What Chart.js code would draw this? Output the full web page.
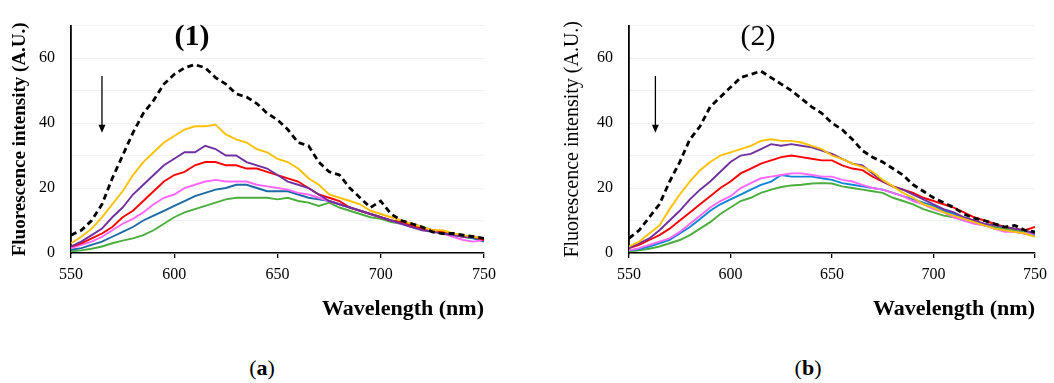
<!DOCTYPE html>
<html lang="en">
<head>
  <meta charset="UTF-8">
  <title>Fluorescence spectra (1) and (2)</title>
  <script src="https://cdn.jsdelivr.net/npm/chart.js"></script>
  <style>
    body { margin: 0; width: 1054px; height: 383px; background: #fff; position: relative; overflow: hidden; font-family: "Liberation Serif", serif; color: #000; }
    .panel { position: absolute; top: 0; height: 330px; }
    .num { position: absolute; top: 18px; font-size: 30px; transform: translateX(-50%); }
    .cap { position: absolute; top: 355px; font-size: 22px; transform: translateX(-50%); }
  </style>
</head>
<body>

  <div class="panel" style="left:0;width:520px"><canvas id="chart1"></canvas></div>
  <div class="panel" style="left:540px;width:514px"><canvas id="chart2"></canvas></div>

  <div class="num" style="left:192px;font-weight:bold">(1)</div>
  <div class="num" style="left:758px">(2)</div>
  <div class="cap" style="left:262px">(<b>a</b>)</div>
  <div class="cap" style="left:808px">(<b>b</b>)</div>

  <script>
    // wavelength axis (nm), every 5 nm
    const wavelengths = [550, 555, 560, 565, 570, 575, 580, 585, 590, 595, 600, 605, 610, 615, 620, 625, 630, 635, 640, 645,
                         650, 655, 660, 665, 670, 675, 680, 685, 690, 695, 700, 705, 710, 715, 720, 725, 730, 735, 740, 745, 750];
    const yTicks = [0, 20, 40, 60];

    // panel (1)
    const p1Black   = [5.5, 7, 10, 15, 23, 30, 37, 43, 47, 52, 55, 57, 58, 57, 54, 52, 49, 48, 46, 43, 41, 38, 34, 33, 28, 25, 24, 20, 17, 14, 16, 12, 10, 9, 8, 6.5, 6, 6, 5.5, 5, 4.5];
    const p1Yellow  = [3, 5, 7.5, 11, 15, 19, 24, 28, 31, 34, 36, 38, 39, 39, 39.5, 36.5, 35, 34, 32, 31, 29, 28, 26, 23, 21, 18, 17, 16, 15, 13, 12, 11, 10, 9, 8, 7, 7, 6, 5.5, 5, 4.5];
    const p1Purple  = [2, 3.5, 5.5, 7.5, 11, 14, 18, 21, 24, 27, 29, 31, 31, 33, 32, 30, 30, 28, 27, 26, 24, 22, 21, 20, 18, 16, 15, 14, 13, 12, 11, 10, 9, 8, 7, 6.5, 6, 5.5, 5, 5, 4.5];
    const p1Red     = [2, 3, 4.5, 6, 8, 11, 13, 16, 19, 22, 24, 25, 27, 28, 28, 27, 27, 26, 26, 25, 24, 23, 22, 20, 18, 17, 16, 14, 13, 12, 11, 10, 9.5, 8.5, 7.5, 7, 6.5, 6, 5, 5, 4];
    const p1Magenta = [1.5, 2.5, 3.5, 5, 7, 9, 10.5, 12.5, 15, 17, 18, 20, 21, 22, 22.5, 22, 22, 22, 21, 20.5, 20, 19.5, 18.5, 18, 17, 16, 15, 14, 13, 12, 11, 10, 9, 8, 7.5, 7, 6, 5, 4, 3.5, 4];
    const p1Blue    = [1, 1.5, 2.5, 3.5, 5, 6.5, 8, 10, 11.5, 13, 14.5, 16, 17.5, 18.5, 19.5, 20, 21, 21, 20, 19, 19, 19, 18, 17, 16.5, 16, 15, 14, 13, 12, 11, 10, 9.5, 9, 8, 7, 6.5, 6, 5, 4.5, 3.5];
    const p1Green   = [0.5, 0.8, 1.3, 2, 3, 3.8, 4.5, 5.5, 7, 9, 11, 12.5, 13.5, 14.5, 15.5, 16.5, 17, 17, 17, 17, 16.5, 17, 16, 15.5, 14.5, 15.5, 14, 13, 12, 11, 10.5, 9.5, 9, 8, 7.5, 7, 6, 5.5, 5, 4.5, 4];

    // panel (2)
    const p2Black   = [4.5, 7, 11, 15, 22, 28, 35, 39, 45, 48, 51, 54, 55, 56, 54, 52, 50, 47.5, 45, 43, 40, 38, 35, 31.5, 29.5, 28, 26, 24, 21, 19, 17, 15.5, 14, 12, 10.7, 10, 9, 8, 8.5, 7, 6.5];
    const p2Yellow  = [2, 3.5, 6, 8.5, 13.5, 18, 22, 25.5, 28, 30, 31, 32, 33, 34.5, 35, 34.5, 34.5, 34, 33, 32, 30, 29, 27.5, 26.5, 25, 22.5, 20.5, 18.5, 17, 15, 14, 12.5, 11.5, 10.5, 9.5, 8.5, 7.5, 7, 6.5, 6, 5];
    const p2Purple  = [1.5, 3, 4.5, 7, 10, 13, 16.5, 19.5, 22, 25, 28, 30, 30.5, 32, 33.5, 33, 33.5, 33, 32.5, 31.5, 30.5, 29, 27.5, 27, 24.5, 22, 20.5, 19.5, 18, 16.5, 15, 13.5, 12.5, 11, 10, 9, 8.5, 8, 7.5, 7, 6];
    const p2Red     = [1.5, 2.5, 4, 5.5, 7.5, 10, 12.5, 15, 17.5, 20, 22, 24.5, 26, 27.5, 28.5, 29.5, 30, 29.5, 29, 28.5, 28.5, 27, 26, 25.5, 23.5, 22, 20.5, 19.5, 18.5, 17, 16, 15, 14, 12.5, 11, 10, 9, 8, 7.5, 7, 8];
    const p2Magenta = [0.8, 1.5, 2.5, 3.5, 4.5, 6.5, 9, 11.5, 14, 16, 17.5, 20, 21.5, 23, 23.5, 24, 24.5, 24.5, 24, 23.5, 23.5, 22.5, 22, 21, 20, 19.5, 18.5, 17.5, 16, 15, 13.5, 12.5, 11, 10, 9, 8.5, 7.5, 6.5, 6.5, 6, 6];
    const p2Blue    = [0.8, 1.2, 2, 3, 4, 6, 8, 10.5, 13, 15, 16.5, 18, 19.5, 21, 22, 24, 23.5, 23.5, 23.5, 23, 22.5, 21.5, 21, 20.5, 20, 19.5, 18.5, 17.5, 16.5, 15.5, 14.5, 13, 12, 10.5, 9.5, 8.5, 7.5, 7, 6.5, 6, 5.5];
    const p2Green   = [0.5, 0.8, 1.3, 2, 3, 4, 5.5, 7.5, 9.5, 12, 14, 16, 17, 18.5, 19.5, 20.3, 20.8, 21, 21.4, 21.5, 21.4, 20.5, 20, 19.5, 19, 18.5, 17, 16, 15, 13.5, 12.5, 11.5, 11, 10, 9.5, 8.5, 8, 7.5, 7, 6.5, 6];

    // arrow marking the decrease (wavelength, from intensity, to intensity)
    const arrow1 = [565, 54.5, 37];
    const arrow2 = [563, 54.5, 37];

    const serif = '"Liberation Serif", "Times New Roman", serif';

    // draws the down arrow using the chart's own scales
    const arrowPlugin = {
      id: 'downArrow',
      afterDatasetsDraw(chart, args, opts) {
        const { ctx, scales: { x, y } } = chart;
        const px = x.getPixelForValue(opts.at[0]);
        const top = y.getPixelForValue(opts.at[1]);
        const bot = y.getPixelForValue(opts.at[2]);
        ctx.save();
        ctx.strokeStyle = '#000';
        ctx.fillStyle = '#000';
        ctx.lineWidth = 1.3;
        ctx.beginPath();
        ctx.moveTo(px, top);
        ctx.lineTo(px, bot - 6);
        ctx.stroke();
        ctx.beginPath();
        ctx.moveTo(px - 3.5, bot - 8);
        ctx.lineTo(px + 3.5, bot - 8);
        ctx.lineTo(px, bot);
        ctx.closePath();
        ctx.fill();
        ctx.restore();
      }
    };

    function makeChart(id, series, colors, cfg) {
      const datasets = series.map((s, i) => ({
        data: wavelengths.map((w, j) => ({ x: w, y: s[j] })),
        borderColor: colors[i],
        borderWidth: i === 0 ? 2.8 : 1.9,
        borderDash: i === 0 ? [6, 4] : [],
        pointRadius: 0,
        tension: 0,
        fill: false
      }));

      return new Chart(document.getElementById(id), {
        type: 'line',
        data: { datasets: datasets },
        plugins: [arrowPlugin],
        options: {
          responsive: true,
          maintainAspectRatio: false,
          animation: false,
          layout: { padding: { top: 25, right: cfg.padRight, left: 0, bottom: 0 } },
          plugins: {
            legend: { display: false },
            tooltip: { enabled: false },
            downArrow: { at: cfg.arrow }
          },
          scales: {
            x: {
              type: 'linear',
              min: 550,
              max: 750,
              ticks: { stepSize: 50, color: '#000', padding: 7, maxRotation: 0, font: { family: serif, size: 16 } },
              grid: { drawOnChartArea: false, drawTicks: true, tickLength: 5, color: '#000', lineWidth: 1.3 },
              border: { color: '#000', width: 1.6 },
              title: {
                display: true,
                text: 'Wavelength (nm)',
                align: 'end',
                color: '#000',
                font: { family: serif, size: 22, weight: 'bold' },
                padding: { top: 0, bottom: 7 }
              },
              afterFit: s => { s.height = 77; }
            },
            y: {
              min: 0,
              max: 70,
              ticks: {
                stepSize: 10,
                padding: 16,
                color: '#000',
                font: { family: serif, size: 16 },
                callback: v => (yTicks.includes(v) ? v : '')
              },
              grid: { color: '#f1f1f1', drawTicks: false },
              border: { color: '#000', width: 1.8 },
              title: {
                display: true,
                text: 'Fluorescence intensity (A.U.)',
                color: '#000',
                font: { family: serif, size: cfg.yTitleSize, weight: cfg.yTitleWeight },
                padding: { top: cfg.yTitlePad, bottom: 0 }
              },
              afterFit: s => { s.width = cfg.axisWidth; }
            }
          }
        }
      });
    }

    makeChart('chart1',
      [p1Black, p1Yellow, p1Purple, p1Red, p1Magenta, p1Blue, p1Green],
      ['#000000', '#ffc000', '#7030a0', '#ff0000', '#ff66ff', '#1b6aa5', '#4aad3c'],
      { axisWidth: 71, padRight: 36, yTitlePad: 9, yTitleSize: 19, yTitleWeight: 'bold', arrow: arrow1 });

    makeChart('chart2',
      [p2Black, p2Yellow, p2Purple, p2Red, p2Magenta, p2Blue, p2Green],
      ['#000000', '#ffc000', '#7030a0', '#ff0000', '#ff66ff', '#0b86d8', '#4aad3c'],
      { axisWidth: 89, padRight: 13, yTitlePad: 21, yTitleSize: 20, yTitleWeight: 'normal', arrow: arrow2 });
  </script>

</body>
</html>
